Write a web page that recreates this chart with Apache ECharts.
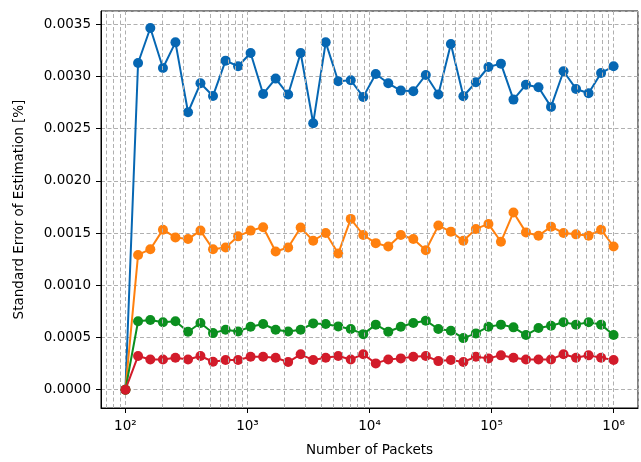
<!DOCTYPE html>
<html>
<head>
<meta charset="utf-8">
<script src="https://cdn.jsdelivr.net/npm/echarts@6/dist/echarts.min.js"></script>
<style>
  html, body { margin: 0; padding: 0; background: #fff; }
  #chart { width: 641px; height: 462px; }
</style>
</head>
<body>
<div id="chart"></div>
<script>
// number of packets (log spaced, 100 .. 1e6)
var packets = [100, 127, 160, 203, 257, 326, 412, 522, 662, 838,
  1061, 1344, 1702, 2155, 2729, 3456, 4377, 5544, 7020, 8891,
  11253, 14251, 18047, 22855, 28943, 36654, 46418, 58784, 74444, 94275,
  119390, 151193, 191468, 242483, 307083, 388894, 492491, 623689, 789841, 1000000];

var blueVals = [0, 0.003127, 0.003462, 0.003080, 0.003325, 0.002656, 0.002933, 0.002812, 0.003150, 0.003096,
  0.003223, 0.002831, 0.002978, 0.002825, 0.003223, 0.002551, 0.003325, 0.002952, 0.002962, 0.002803,
  0.003022, 0.002933, 0.002863, 0.002857, 0.003013, 0.002825, 0.003309, 0.002809, 0.002943, 0.003089,
  0.003121, 0.002777, 0.002920, 0.002895, 0.002707, 0.003048, 0.002879, 0.002838, 0.003032, 0.003096];

var orangeVals = [0, 0.001290, 0.001345, 0.001532, 0.001458, 0.001442, 0.001523, 0.001345, 0.001361, 0.001468,
  0.001523, 0.001555, 0.001323, 0.001361, 0.001552, 0.001426, 0.001500, 0.001303, 0.001635, 0.001481,
  0.001403, 0.001371, 0.001481, 0.001442, 0.001335, 0.001571, 0.001513, 0.001426, 0.001539, 0.001587,
  0.001416, 0.001697, 0.001506, 0.001474, 0.001561, 0.001500, 0.001487, 0.001474, 0.001532, 0.001371];

var greenVals = [0, 0.000655, 0.000668, 0.000645, 0.000655, 0.000555, 0.000639, 0.000542, 0.000574, 0.000558,
  0.000603, 0.000629, 0.000574, 0.000558, 0.000574, 0.000635, 0.000629, 0.000606, 0.000581, 0.000532,
  0.000623, 0.000555, 0.000603, 0.000639, 0.000661, 0.000581, 0.000565, 0.000494, 0.000539, 0.000603,
  0.000623, 0.000597, 0.000523, 0.000590, 0.000613, 0.000645, 0.000623, 0.000645, 0.000623, 0.000523];

var redVals = [0, 0.000323, 0.000290, 0.000290, 0.000306, 0.000290, 0.000323, 0.000268, 0.000284, 0.000284,
  0.000316, 0.000316, 0.000306, 0.000265, 0.000339, 0.000284, 0.000306, 0.000323, 0.000290, 0.000339,
  0.000252, 0.000290, 0.000300, 0.000316, 0.000323, 0.000274, 0.000284, 0.000265, 0.000316, 0.000300,
  0.000329, 0.000306, 0.000290, 0.000290, 0.000290, 0.000339, 0.000306, 0.000329, 0.000306, 0.000284];

var seriesColors = ['#0667b3', '#ff800e', '#0b8f1f', '#d21b2a'];

// minor grid positions 2..9 x 10^k
var minorGrid = [];
for (var e = 1; e <= 6; e++) {
  for (var m = 2; m <= 9; m++) {
    var v = m * Math.pow(10, e);
    if (v > 63.1 && v < 1584893) minorGrid.push(v);
  }
}

var sup = {'1': '¹', '2': '²', '3': '³', '4': '⁴', '5': '⁵', '6': '⁶'};
var font = 'DejaVu Sans';
var gridLine = { color: '#b0b0b0', width: 1, type: [4, 2.5] };

function pairs(vals) {
  var arr = [];
  for (var i = 0; i < packets.length; i++) arr.push([packets[i], vals[i]]);
  return arr;
}

function lineSeries(vals, color) {
  return {
    type: 'line',
    data: pairs(vals),
    symbol: 'circle',
    symbolSize: 10,
    showAllSymbol: true,
    z: 3,
    lineStyle: { color: color, width: 2 },
    itemStyle: { color: color }
  };
}

var myChart = echarts.init(document.getElementById('chart'));
myChart.setOption({
  animation: false,
  backgroundColor: '#fff',
  textStyle: { fontFamily: font },
  grid: {
    left: 101, right: 3, top: 11, bottom: 52,
    show: true, borderColor: '#000', borderWidth: 1
  },
  xAxis: {
    type: 'log',
    logBase: 10,
    min: 63.0957,
    max: 1584893,
    name: 'Number of Packets',
    nameLocation: 'middle',
    nameGap: 35,
    nameTextStyle: { color: '#000', fontSize: 13.5, fontFamily: font },
    axisLine: { show: true, onZero: false, lineStyle: { color: '#000', width: 1 } },
    axisTick: { show: true, length: 5, lineStyle: { color: '#000' } },
    axisLabel: {
      color: '#000', fontSize: 13.5, fontFamily: font, margin: 11,
      showMinLabel: false, showMaxLabel: false,
      formatter: function (v) {
        var lg = Math.log10(v);
        var ex = Math.round(lg);
        if (Math.abs(lg - ex) > 1e-6) return '';
        return '10' + (sup[String(ex)] || ex);
      }
    },
    splitLine: { show: true, lineStyle: gridLine }
  },
  yAxis: {
    type: 'value',
    min: -0.000175,
    max: 0.003625,
    splitNumber: 7,
    name: 'Standard Error of Estimation [%]',
    nameLocation: 'middle',
    nameGap: 75,
    nameTextStyle: { color: '#000', fontSize: 13.5, fontFamily: font },
    axisLine: { show: true, lineStyle: { color: '#000', width: 1 } },
    axisTick: { show: true, length: 5, lineStyle: { color: '#000' } },
    axisLabel: {
      color: '#000', fontSize: 13.5, fontFamily: font, margin: 10,
      showMinLabel: false, showMaxLabel: false,
      formatter: function (v) { return v.toFixed(4); }
    },
    splitLine: { show: true, lineStyle: gridLine }
  },
  series: [
    {
      type: 'line',
      data: [],
      z: 1,
      silent: true,
      markLine: {
        silent: true,
        symbol: ['none', 'none'],
        label: { show: false },
        lineStyle: gridLine,
        data: minorGrid.map(function (v) { return { xAxis: v }; })
      }
    },
    lineSeries(blueVals, seriesColors[0]),
    lineSeries(orangeVals, seriesColors[1]),
    lineSeries(greenVals, seriesColors[2]),
    lineSeries(redVals, seriesColors[3])
  ]
});
</script>
</body>
</html>
